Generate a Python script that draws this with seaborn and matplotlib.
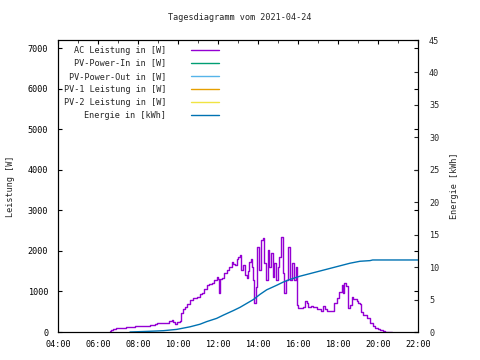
import numpy as np
import seaborn as sns
from matplotlib import pyplot as plt
from matplotlib.ticker import FuncFormatter, MultipleLocator

# AC Leistung [W]
ac_time = ["06:36", "06:40", "06:45", "06:55", "07:05", "07:15", "07:25", "07:36", "07:50",
           "08:05", "08:20", "08:36", "08:50", "08:56", "09:06", "09:16", "09:26", "09:33",
           "09:41", "09:46", "09:51", "09:56", "10:05", "10:09", "10:14", "10:21", "10:28",
           "10:36", "10:46", "10:56", "11:06", "11:11", "11:18", "11:26", "11:33", "11:41",
           "11:48", "11:56", "12:00", "12:04", "12:06", "12:11", "12:18", "12:26", "12:33",
           "12:41", "12:46", "12:51", "12:56", "13:01", "13:06", "13:10", "13:16", "13:21",
           "13:26", "13:30", "13:34", "13:38", "13:41", "13:46", "13:49", "13:53", "13:58",
           "14:04", "14:09", "14:14", "14:19", "14:23", "14:29", "14:34", "14:39", "14:44",
           "14:49", "14:54", "14:59", "15:04", "15:09", "15:14", "15:19", "15:24", "15:31",
           "15:36", "15:42", "15:48", "15:53", "15:56", "16:00", "16:06", "16:14", "16:21",
           "16:26", "16:31", "16:38", "16:46", "16:56", "17:08", "17:16", "17:22", "17:26",
           "17:41", "17:48", "17:56", "18:04", "18:11", "18:15", "18:18", "18:23", "18:29",
           "18:36", "18:41", "18:46", "18:51", "18:56", "19:01", "19:06", "19:10", "19:16",
           "19:26", "19:36", "19:44", "19:51", "20:00", "20:06", "20:14", "20:21", "20:30",
           "20:41"]
ac_power = [20, 60, 80, 100, 90, 110, 120, 130, 140,
            150, 160, 170, 200, 230, 210, 225, 220, 260,
            295, 240, 200, 255, 270, 470, 570, 625, 700,
            790, 840, 870, 930, 960, 1050, 1160, 1180, 1200,
            1280, 1360, 1300, 960, 1300, 1330, 1450, 1530, 1600,
            1730, 1680, 1650, 1800, 1855, 1900, 1530, 1650, 1400,
            1330, 1500, 1730, 1800, 1610, 1280, 710, 1117, 2100,
            1530, 2270, 2320, 1700, 1280, 2020, 1610, 1950, 1360,
            1700, 1280, 1610, 1855, 2350, 1450, 960, 1280, 2100,
            1280, 1700, 1280, 1610, 665, 600, 580, 625, 770,
            720, 625, 640, 610, 560, 525, 650, 560, 525,
            525, 707, 830, 995, 1160, 955, 1200, 1135, 585,
            665, 870, 820, 805, 760, 707, 700, 500, 420,
            337, 213, 150, 90, 70, 50, 30, 10, 5,
            0]

# Energie [kWh]
en_time = ["07:36", "08:30", "09:16", "09:56", "10:36", "11:06", "11:26", "11:56", "12:16",
           "12:46", "13:06", "13:36", "13:46", "14:06", "14:26", "14:56", "15:16", "15:36",
           "16:06", "16:36", "17:06", "17:36", "18:06", "18:36", "19:06", "19:36", "19:44",
           "22:00"]
energy = [0.0, 0.1, 0.2, 0.4, 0.8, 1.2, 1.6, 2.1, 2.6,
          3.3, 3.8, 4.7, 5.0, 5.8, 6.5, 7.2, 7.7, 8.1,
          8.6, 9.0, 9.4, 9.8, 10.2, 10.6, 10.9, 11.0, 11.1,
          11.1]

# no data for these series on this day
pv_in, pv_out, pv1, pv2 = [], [], [], []

hour_ticks = [4, 6, 8, 10, 12, 14, 16, 18, 20, 22]


def to_hours(times):
	return np.array([int(t[:2]) + int(t[3:]) / 60 for t in times])


sns.set_style("white")
plt.rcParams['font.family'] = ['DejaVu Sans Mono', 'DejaVu Sans']
fs = 6.1

fig = plt.figure(figsize=(4.8, 3.6), dpi=100)
ax = fig.add_axes([58/480, 28/360, 360/480, 292/360])
ax2 = ax.twinx()

sns.lineplot(x=to_hours(ac_time), y=ac_power, ax=ax, color="#9400d3", lw=1,
             drawstyle="steps-post", label="AC Leistung in [W]")
ax.plot(pv_in, pv_in, color="#009e73", lw=1, label="PV-Power-In in [W]")
ax.plot(pv_out, pv_out, color="#56b4e9", lw=1, label="PV-Power-Out in [W]")
ax.plot(pv1, pv1, color="#e69f00", lw=1, label="PV-1 Leistung in [W]")
ax.plot(pv2, pv2, color="#f0e442", lw=1, label="PV-2 Leistung in [W]")
sns.lineplot(x=to_hours(en_time), y=energy, ax=ax2, color="#0072b2", lw=1,
             label="Energie in [kWh]", legend=False)

ax.set_xlim(4, 22)
ax.set_ylim(0, 7200)
ax2.set_ylim(0, 45)

ax.set_xticks(hour_ticks)
ax.xaxis.set_minor_locator(MultipleLocator(1))
ax.xaxis.set_major_formatter(FuncFormatter(lambda v, p: f"{int(v):02d}:00"))
ax.set_yticks(np.arange(0, 7001, 1000))
ax2.set_yticks(np.arange(0, 46, 5))

ax.tick_params(direction="in", length=3, width=0.8, labelsize=fs, top=True, right=True,
               colors="black")
ax.tick_params(axis="y", pad=7)
ax.tick_params(axis="x", pad=5.5)
ax.tick_params(axis="x", which="minor", direction="in", length=2, top=True)
ax2.tick_params(direction="in", length=3, width=0.8, labelsize=fs, pad=8)

for a in (ax, ax2):
	for s in a.spines.values():
		s.set_color("black")
		s.set_linewidth(0.8)

ax.set_ylabel("Leistung [W]", fontsize=fs, labelpad=9)
ax2.set_ylabel("Energie [kWh]", fontsize=fs, rotation=90, labelpad=8)
ax.set_xlabel("")
fig.text(0.5, 1 - 18/360, "Tagesdiagramm vom 2021-04-24", ha="center", va="center", fontsize=fs)

h1, l1 = ax.get_legend_handles_labels()
h2, l2 = ax2.get_legend_handles_labels()
ax.legend(h1 + h2, l1 + l2, loc="upper left", bbox_to_anchor=(0.0, 1.0), markerfirst=False,
          frameon=False, fontsize=fs, handlelength=3.3, handletextpad=2.9, labelspacing=0.48,
          borderaxespad=0.25)

plt.savefig("out.png", dpi=100)
